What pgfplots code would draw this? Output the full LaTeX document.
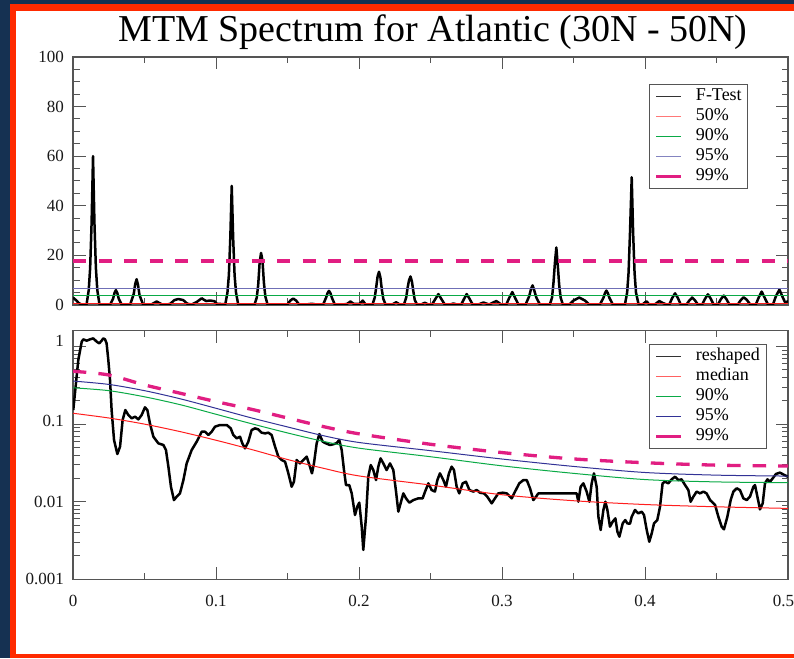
\documentclass[border=0pt]{standalone}
\usepackage{fontspec}
\setmainfont{Liberation Serif}
\usepackage{pgfplots}
\pgfplotsset{compat=1.18}
\definecolor{navybg}{RGB}{21,49,82}
\definecolor{framered}{RGB}{255,42,0}
\definecolor{thred}{RGB}{255,30,30}
\definecolor{thgreen}{RGB}{10,170,70}
\definecolor{thblue}{RGB}{50,50,150}
\definecolor{thmag}{RGB}{225,30,130}
\definecolor{axgray}{RGB}{85,85,85}
\pgfplotsset{
  mtm/.style={
    scale only axis, width=715pt,
    xmin=0, xmax=0.5,
    tick align=inside,
    major tick length=12.5pt, minor tick length=6.5pt,
    axis line style={draw=axgray, line width=1.2pt},
    every tick/.style={draw=axgray, line width=1pt},
    xtick={0,0.1,0.2,0.3,0.4,0.5},
    minor x tick num=1,
    tick label style={font=\fontsize{17}{20}\selectfont, text=black!90},
    yticklabel style={inner sep=0pt, xshift=-9pt},
    xticklabel style={inner sep=0pt, yshift=-15.5pt},
    /pgf/number format/assume math mode=true,
    legend image code/.code={\draw[##1] (0pt,0pt) -- (25pt,0pt);},
    legend style={draw=axgray, line width=0.8pt, fill=white,
      font=\fontsize{18}{20}\selectfont, anchor=north west,
      inner xsep=5pt, inner ysep=2.5pt, row sep=1pt,
      nodes={inner sep=1pt, text height=13pt, text depth=4pt},
      /tikz/every odd column/.append style={column sep=12pt}},
    legend cell align=left,
  }
}
\begin{document}
\begin{tikzpicture}[x=1pt,y=1pt]
\useasboundingbox (0,0) rectangle (794,658);
\fill[navybg] (0,0) rectangle (794,658);
\fill[framered] (10,0) rectangle (794,654);
\fill[white] (16,4) rectangle (794,647);
\node[anchor=base, font=\fontsize{38}{44}\selectfont] at (433,616) {MTM Spectrum for Atlantic (30N - 50N)};

% ---------------- Top panel: F-test ----------------
\begin{axis}[mtm, height=248pt, at={(73pt,353pt)}, anchor=south west,
  ymin=0, ymax=100, ytick={0,20,40,60,80,100}, minor y tick num=3,
  xticklabels={,,,,,},
  legend style={at={(0.806,0.891)}}]
\addplot[black, line width=2.5pt, line join=round, forget plot] coordinates {
(0,3.0) (0.002,2.0) (0.004,0.8) (0.006,0.2) (0.008,0.1)
(0.0095,0.3) (0.011,6) (0.012,15) (0.013,33) (0.014,60) (0.015,33) (0.016,15) (0.017,6) (0.0185,0.3)
(0.022,0.1)
(0.026,0.2) (0.028,2.5) (0.029,4.8) (0.030,6) (0.031,4.8) (0.032,2.5) (0.034,0.2)
(0.038,0.1)
(0.040,0.2) (0.0425,4.5) (0.0435,8.5) (0.0445,10.4) (0.0455,8) (0.0465,4) (0.049,0.2)
(0.052,0.1)
(0.055,0.3) (0.0585,1.4) (0.062,0.3)
(0.065,0.1)
(0.068,0.5) (0.071,2.0) (0.0737,2.4) (0.077,2.0) (0.080,0.5)
(0.083,0.2)
(0.0865,1.2) (0.090,2.7) (0.093,1.6) (0.096,1.8) (0.099,1.5) (0.1005,0.5)
(0.1065,0.3) (0.108,5) (0.109,12) (0.110,27) (0.111,48) (0.112,27) (0.113,12) (0.114,5) (0.1155,0.3)
(0.120,0.1)
(0.127,0.3) (0.1285,3) (0.1295,8) (0.1305,17) (0.1315,21) (0.1325,18) (0.1335,9) (0.1345,3.5) (0.136,0.3)
(0.142,0.1)
(0.150,0.3) (0.152,1.8) (0.154,2.6) (0.156,1.8) (0.158,0.3)
(0.163,0.2) (0.167,0.5) (0.170,0.2)
(0.175,0.3) (0.177,3) (0.178,4.8) (0.179,5.7) (0.180,4.8) (0.181,3) (0.183,0.3)
(0.187,0.1)
(0.1915,0.4) (0.194,1.4) (0.1965,0.4)
(0.2005,0.5) (0.2026,1.8) (0.2045,0.3)
(0.2095,0.3) (0.211,3) (0.212,7) (0.213,11.5) (0.214,13.4) (0.215,11) (0.216,6) (0.217,2.5) (0.2185,0.3)
(0.2235,0.3) (0.226,1.1) (0.2285,0.2)
(0.2315,0.3) (0.233,3) (0.234,7) (0.235,10) (0.236,11.5) (0.237,9.5) (0.238,5.5) (0.239,2) (0.2405,0.3)
(0.2435,0.2) (0.246,0.9) (0.2485,0.2)
(0.251,0.2) (0.2535,2.5) (0.2555,4.4) (0.2575,2.5) (0.260,0.2)
(0.263,0.1) (0.266,0.6) (0.269,0.1)
(0.2715,0.2) (0.2735,2.5) (0.2753,4.4) (0.2773,2.5) (0.2795,0.2)
(0.283,0.1) (0.287,1.0) (0.291,0.2) (0.296,1.6) (0.2995,0.2)
(0.303,0.2) (0.305,2.8) (0.3072,5.2) (0.3092,2.8) (0.3115,0.2)
(0.3165,0.2) (0.319,3.5) (0.3203,6.5) (0.3214,7.9) (0.3225,6) (0.324,3) (0.3265,0.2)
(0.3335,0.3) (0.335,3) (0.336,9) (0.337,17) (0.338,23.2) (0.339,16) (0.340,8) (0.341,3) (0.3425,0.3)
(0.347,0.2) (0.350,1.8) (0.354,3.0) (0.358,1.8) (0.361,0.2)
(0.3685,0.2) (0.371,3) (0.372,4.8) (0.373,5.8) (0.374,4.8) (0.375,3) (0.3775,0.2)
(0.386,0.3) (0.3875,5) (0.3885,13) (0.3895,29) (0.3907,51.5) (0.3917,29) (0.3927,13) (0.3937,5) (0.3955,0.3)
(0.398,0.1) (0.401,1.5) (0.403,0.2) (0.407,0.3) (0.410,1.6) (0.4125,0.8) (0.415,0.2)
(0.417,0.2) (0.419,2.8) (0.421,4.7) (0.423,2.8) (0.425,0.2)
(0.429,0.2) (0.431,1.8) (0.433,3.0) (0.435,1.8) (0.437,0.2)
(0.440,0.2) (0.442,2.5) (0.444,4.3) (0.446,2.5) (0.448,0.2)
(0.451,0.2) (0.453,2.3) (0.455,3.8) (0.457,2.3) (0.459,0.2)
(0.462,0.3)
(0.465,0.3) (0.467,2) (0.469,3.1) (0.471,2.2) (0.4735,0.3)
(0.4775,0.2) (0.4795,3) (0.4816,5.4) (0.4836,3) (0.486,0.2)
(0.4895,0.2) (0.4915,3.5) (0.494,6.2) (0.496,3.5) (0.498,1.0) (0.5,1.5)
};
\addplot[thred, line width=1pt, forget plot] coordinates {(0,0.5) (0.5,0.5)};
\addplot[thgreen, line width=1pt, forget plot] coordinates {(0,3.9) (0.5,3.9)};
\addplot[thblue!70, line width=1pt, forget plot] coordinates {(0,6.6) (0.5,6.6)};
\addplot[thmag, line width=3.3pt, dash pattern=on 13.3pt off 12.2pt, forget plot] coordinates {(0,17.7) (0.5,17.7)};
\addlegendimage{black!80, line width=0.9pt}
\addlegendentry{F-Test}
\addlegendimage{thred!60, line width=1pt}
\addlegendentry{50\%}
\addlegendimage{thgreen, line width=1pt}
\addlegendentry{90\%}
\addlegendimage{thblue!60, line width=1pt}
\addlegendentry{95\%}
\addlegendimage{thmag, line width=3.3pt}
\addlegendentry{99\%}
\end{axis}

% ---------------- Bottom panel: reshaped spectrum ----------------
\begin{axis}[mtm, height=248.6pt, at={(73pt,78.7pt)}, anchor=south west,
  ymode=log, ymin=0.001, ymax=1.6,
  ytick={0.001,0.01,0.1,1},
  yticklabels={0.001,0.01,\raisebox{7pt}{0.1},\raisebox{11pt}{1}},
  minor ytick={0.002,0.003,0.004,0.005,0.006,0.007,0.008,0.009,
    0.02,0.03,0.04,0.05,0.06,0.07,0.08,0.09,0.2,0.3,0.4,0.5,0.6,0.7,0.8,0.9},
  xticklabels={0,0.1,0.2,0.3,0.4,\makebox[12pt][r]{0.5}},
  legend style={at={(0.806,0.9465)}}]
\addplot[black, line width=2.5pt, line join=round, forget plot] coordinates {
(0.0002,0.152) (0.0037,0.670) (0.0061,1.154) (0.0072,1.237) (0.0096,1.189) (0.0119,1.237)
(0.0142,1.274) (0.0166,1.154) (0.0184,1.099) (0.0200,1.189) (0.0212,1.274) (0.0224,1.237)
(0.0235,1.099) (0.0247,0.670) (0.0259,0.370) (0.0270,0.152) (0.0287,0.0624) (0.0310,0.0412)
(0.0329,0.0512) (0.0347,0.113) (0.0366,0.152) (0.0387,0.131) (0.0410,0.1187) (0.0434,0.1247)
(0.0457,0.1152) (0.0480,0.131) (0.0503,0.1645) (0.0520,0.152) (0.0538,0.1023) (0.0562,0.0689)
(0.0597,0.0565) (0.0632,0.0538) (0.0650,0.0464) (0.0667,0.0283) (0.0685,0.0156) (0.0706,0.0105)
(0.0725,0.0116) (0.0748,0.0128) (0.0772,0.0190) (0.0795,0.0312) (0.0830,0.0464) (0.0865,0.0594)
(0.0900,0.0799) (0.0923,0.0799) (0.0946,0.0724) (0.0970,0.0799) (0.0993,0.0927) (0.1028,0.0974)
(0.1075,0.0974) (0.1103,0.0882) (0.1121,0.0724) (0.1145,0.0656) (0.1168,0.0689) (0.1184,0.0565)
(0.1203,0.0487) (0.1226,0.0594) (0.1249,0.0839) (0.1273,0.0882) (0.1296,0.0856) (0.1319,0.0776)
(0.1343,0.0760) (0.1366,0.0776) (0.1389,0.0724) (0.1413,0.0512) (0.1436,0.0381) (0.1459,0.0345)
(0.1483,0.0328) (0.1506,0.0232) (0.1529,0.0156) (0.1545,0.0181) (0.1564,0.0345) (0.1587,0.0312)
(0.1611,0.0345) (0.1634,0.0381) (0.1657,0.0283) (0.1671,0.0232) (0.1685,0.0312) (0.1704,0.0565)
(0.1723,0.0745) (0.1746,0.0594) (0.1769,0.0565) (0.1797,0.0538) (0.1820,0.055) (0.1844,0.057)
(0.1862,0.0624) (0.1879,0.0464) (0.1895,0.0256) (0.1909,0.0164) (0.1932,0.0164) (0.1949,0.0128)
(0.1972,0.00674) (0.1988,0.00863) (0.2002,0.00972) (0.2019,0.00477) (0.2030,0.00239) (0.2049,0.00641)
(0.2065,0.0210) (0.2082,0.0297) (0.2100,0.0256) (0.2119,0.0190) (0.2135,0.0283) (0.2151,0.0362)
(0.2170,0.0312) (0.2193,0.0256) (0.2217,0.0312) (0.2240,0.0256) (0.2259,0.0135) (0.2275,0.00744)
(0.2294,0.0100) (0.2310,0.0128) (0.2329,0.01105) (0.2352,0.00972) (0.2380,0.0105) (0.2415,0.01105)
(0.2445,0.01105) (0.2462,0.0135) (0.2485,0.01725) (0.2508,0.01415) (0.2531,0.0135) (0.2548,0.0190)
(0.2566,0.0232) (0.2590,0.0190) (0.2608,0.0156) (0.2629,0.0232) (0.2648,0.0283) (0.2664,0.0256)
(0.2683,0.0156) (0.2701,0.0128) (0.2725,0.01725) (0.2748,0.0181) (0.2772,0.01415) (0.2800,0.0135)
(0.2823,0.01415) (0.2846,0.01307) (0.2874,0.0128) (0.2897,0.0116) (0.2928,0.00953) (0.2951,0.01105)
(0.2974,0.0128) (0.3005,0.01307) (0.3033,0.0128) (0.3068,0.01105) (0.3091,0.0135) (0.3121,0.01725)
(0.3149,0.0190) (0.3173,0.0190) (0.3196,0.01487) (0.3219,0.0105) (0.3238,0.0116) (0.3254,0.0128)
(0.3522,0.0128) (0.3534,0.0100) (0.3550,0.0156) (0.3569,0.01725) (0.3592,0.0135) (0.3611,0.0100)
(0.3627,0.01725) (0.3643,0.0232) (0.3662,0.0156) (0.3674,0.00641) (0.3690,0.00432) (0.3709,0.00782)
(0.3723,0.0100) (0.3737,0.00782) (0.3755,0.00477) (0.3774,0.00553) (0.3793,0.0061) (0.3807,0.00411)
(0.3821,0.00354) (0.3844,0.00526) (0.3862,0.00581) (0.3876,0.00526) (0.3895,0.00520) (0.3907,0.00641)
(0.3930,0.00782) (0.3953,0.00708) (0.3977,0.00744) (0.3993,0.00674) (0.4012,0.00432) (0.4030,0.00305)
(0.4047,0.00391) (0.4063,0.00526) (0.4086,0.00581) (0.4105,0.00863) (0.4123,0.01725) (0.4140,0.0181)
(0.4163,0.01725) (0.4186,0.0194) (0.4210,0.0210) (0.4233,0.0190) (0.4256,0.0194) (0.4280,0.0164)
(0.4303,0.01415) (0.4319,0.0100) (0.4338,0.0116) (0.4361,0.0135) (0.4385,0.0128) (0.4408,0.0135)
(0.4431,0.0128) (0.4455,0.0105) (0.4490,0.00907) (0.4513,0.00641) (0.4536,0.00477) (0.4552,0.00441)
(0.4576,0.00641) (0.4599,0.0105) (0.4618,0.0135) (0.4641,0.01487) (0.4664,0.01415) (0.4688,0.01105)
(0.4711,0.0105) (0.4734,0.0116) (0.4758,0.0156) (0.4769,0.0164) (0.4786,0.0116) (0.4804,0.00797)
(0.4823,0.00953) (0.4839,0.01725) (0.4856,0.0194) (0.4874,0.0181) (0.4893,0.0200) (0.4916,0.0228)
(0.4944,0.0237) (0.4972,0.0222) (0.5000,0.0210)
};
\addplot[thred, line width=1pt, smooth, forget plot] coordinates {
(0,0.138) (0.025,0.120) (0.05,0.100) (0.075,0.080) (0.10,0.062) (0.125,0.047) (0.15,0.035)
(0.175,0.027) (0.20,0.0215) (0.25,0.0164) (0.30,0.0123) (0.35,0.0103) (0.40,0.0092) (0.45,0.0086) (0.50,0.0082)};
\addplot[thgreen, line width=1pt, smooth, forget plot] coordinates {
(0,0.294) (0.025,0.270) (0.05,0.225) (0.075,0.178) (0.10,0.134) (0.125,0.101) (0.15,0.077)
(0.175,0.060) (0.20,0.049) (0.25,0.038) (0.30,0.029) (0.35,0.0232) (0.40,0.0193) (0.45,0.0180) (0.50,0.0176)};
\addplot[thblue, line width=1pt, smooth, forget plot] coordinates {
(0,0.359) (0.025,0.325) (0.05,0.270) (0.075,0.212) (0.10,0.160) (0.125,0.120) (0.15,0.092)
(0.175,0.071) (0.20,0.058) (0.25,0.0455) (0.30,0.0355) (0.35,0.0285) (0.40,0.0238) (0.45,0.0220) (0.50,0.0214)};
\addplot[thmag, line width=3.3pt, dash pattern=on 13.3pt off 12.2pt, smooth, forget plot] coordinates {
(0,0.48) (0.025,0.43) (0.05,0.32) (0.075,0.25) (0.10,0.195) (0.125,0.155) (0.15,0.120)
(0.175,0.093) (0.20,0.075) (0.25,0.055) (0.30,0.043) (0.35,0.0356) (0.40,0.0318) (0.45,0.0296) (0.50,0.0288)};
\addlegendimage{black!80, line width=0.9pt}
\addlegendentry{reshaped}
\addlegendimage{thred!70, line width=1pt}
\addlegendentry{median}
\addlegendimage{thgreen, line width=1pt}
\addlegendentry{90\%}
\addlegendimage{thblue, line width=1pt}
\addlegendentry{95\%}
\addlegendimage{thmag, line width=3.3pt}
\addlegendentry{99\%}
\end{axis}
\end{tikzpicture}
\end{document}
